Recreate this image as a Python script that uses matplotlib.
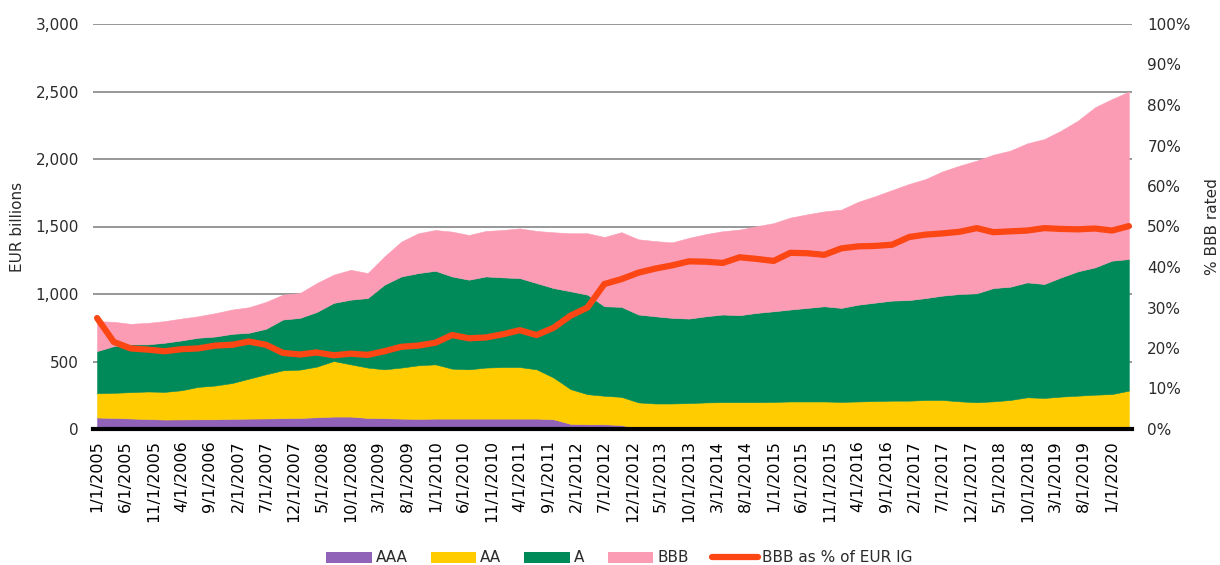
import numpy as np
import pandas as pd
import matplotlib
matplotlib.use("Agg")
import matplotlib.pyplot as plt
from matplotlib.patches import Patch
from matplotlib.lines import Line2D

plt.rcParams['font.family'] = ['DejaVu Sans']

# quarterly points, Jan 2005 .. Apr 2020
dates = pd.date_range('2005-01-01', '2020-04-01', freq='3MS')

# stack tops (EUR bn)
aaa_top = [85, 82, 78, 74, 70, 71, 72, 72, 75, 77, 78, 80, 82, 87, 92, 92,
           82, 80, 77, 75, 77, 77, 77, 77, 77, 77, 77, 72, 38, 35, 35, 30,
           0, 0, 0, 0, 0, 0, 0, 0, 0, 0, 0, 0, 0, 0, 0, 0,
           0, 0, 0, 0, 0, 0, 0, 0, 0, 0, 0, 0, 0, 0]
aa_top = [265, 268, 273, 278, 275, 287, 312, 322, 341, 373, 405, 435, 440, 462, 504, 479,
          455, 442, 455, 472, 479, 447, 442, 455, 459, 459, 442, 381, 295, 258, 246, 238,
          197, 189, 189, 192, 197, 199, 199, 199, 201, 204, 204, 204, 201, 204, 207, 210,
          210, 215, 215, 205, 198, 205, 215, 235, 230, 240, 247, 254, 259, 284]
a_top = [577, 614, 627, 627, 639, 656, 676, 685, 705, 713, 742, 811, 823, 867, 934, 958,
         970, 1069, 1130, 1155, 1172, 1130, 1106, 1130, 1123, 1118, 1081, 1044, 1020, 995, 909, 905,
         848, 835, 823, 818, 835, 848, 843, 860, 872, 885, 897, 909, 897, 921, 936, 951,
         955, 970, 988, 1000, 1005, 1044, 1054, 1086, 1074, 1123, 1168, 1197, 1247, 1259]
bbb_top = [799, 794, 779, 786, 799, 818, 835, 858, 885, 902, 941, 995, 1007, 1081, 1143, 1179,
           1155, 1278, 1388, 1450, 1474, 1462, 1437, 1467, 1474, 1486, 1467, 1457, 1450, 1450, 1422, 1458,
           1405, 1392, 1382, 1416, 1444, 1465, 1477, 1502, 1525, 1566, 1590, 1612, 1625, 1683, 1724, 1770,
           1815, 1852, 1909, 1951, 1988, 2032, 2062, 2116, 2148, 2210, 2284, 2383, 2444, 2499]

# BBB share of EUR IG (%)
bbb_pct = [27.4, 21.5, 19.9, 19.6, 19.2, 19.7, 19.9, 20.6, 20.8, 21.6, 20.8, 18.8, 18.4, 18.9, 18.2, 18.6,
           18.3, 19.2, 20.3, 20.6, 21.3, 23.2, 22.4, 22.6, 23.4, 24.4, 23.2, 25.0, 28.0, 30.0, 35.8, 37.0,
           38.6, 39.6, 40.4, 41.4, 41.3, 41.0, 42.4, 42.0, 41.5, 43.5, 43.4, 43.0, 44.6, 45.1, 45.2, 45.5,
           47.4, 48.0, 48.3, 48.7, 49.6, 48.6, 48.8, 49.0, 49.6, 49.4, 49.3, 49.5, 49.0, 50.1]

series_names = ['AAA', 'AA', 'A', 'BBB']
colors = ['#9063b8', '#ffcc00', '#008a5a', '#fb9cb4']
line_color = '#fc4714'
text_color = '#2b2b2b'

tops = np.array([aaa_top, aa_top, a_top, bbb_top], dtype=float)
amounts = np.diff(np.vstack([np.zeros(len(dates)), tops]), axis=0)

fig = plt.figure(figsize=(12.2, 5.65), dpi=100)
ax = fig.add_axes([93 / 1220, 1 - 429 / 565, 1039 / 1220, 405 / 565])

ax.stackplot(dates, amounts, colors=colors, labels=series_names,
             edgecolor='face', linewidth=0.4, zorder=2)

ax.set_ylim(0, 3000)
ax.set_yticks(np.arange(0, 3001, 500))
ax.yaxis.set_major_formatter(matplotlib.ticker.FuncFormatter(lambda v, p: f"{int(v):,}"))
ax.grid(axis='y', color='#8f8f8f', linewidth=1.3, zorder=0)
ax.set_axisbelow(True)
ax.set_xlim(pd.Timestamp('2004-12-10'), pd.Timestamp('2020-04-18'))

tick_dates = pd.date_range('2005-01-01', '2020-01-01', freq='5MS')
ax.set_xticks(tick_dates)
ax.set_xticklabels([f"{d.month}/1/{d.year}" for d in tick_dates], rotation=90,
                   fontsize=11.5, color='black')
ax.tick_params(axis='x', length=0, pad=8)
ax.tick_params(axis='y', length=0, pad=10, labelsize=11, labelcolor=text_color)

for s in ['top', 'right', 'left']:
    ax.spines[s].set_visible(False)
ax.spines['bottom'].set_color('black')
ax.spines['bottom'].set_linewidth(3)
ax.spines['bottom'].set_zorder(5)

ax.set_ylabel('EUR billions', fontsize=11, color=text_color, va='center')
ax.yaxis.set_label_coords(-0.0722, 0.5)

ax2 = ax.twinx()
ax2.plot(dates, bbb_pct, color=line_color, linewidth=4.5,
         solid_capstyle='round', solid_joinstyle='round', zorder=4)
ax2.set_ylim(0, 100)
ax2.set_yticks(np.arange(0, 101, 10))
ax2.yaxis.set_major_formatter(matplotlib.ticker.FuncFormatter(lambda v, p: f"{int(v)}%"))
ax2.tick_params(axis='y', length=0, pad=11, labelsize=11, labelcolor=text_color)
for s in ['top', 'right', 'left', 'bottom']:
    ax2.spines[s].set_visible(False)
ax2.set_ylabel('% BBB rated', fontsize=11, color=text_color, va='center')
ax2.yaxis.set_label_coords(1.077, 0.5)

handles = [Patch(facecolor=c, edgecolor='none') for c in colors]
handles.append(Line2D([0], [0], color=line_color, linewidth=4.5, solid_capstyle='round'))
labels = series_names + ['BBB as % of EUR IG']
fig.legend(handles, labels, loc='center', bbox_to_anchor=(619 / 1220, 1 - 558 / 565),
           ncol=5, frameon=False, fontsize=11, handlelength=3.0, handleheight=0.75,
           handletextpad=0.26, columnspacing=1.5, labelcolor=text_color,
           borderpad=0.2)

fig.savefig('out.png', dpi=100)
